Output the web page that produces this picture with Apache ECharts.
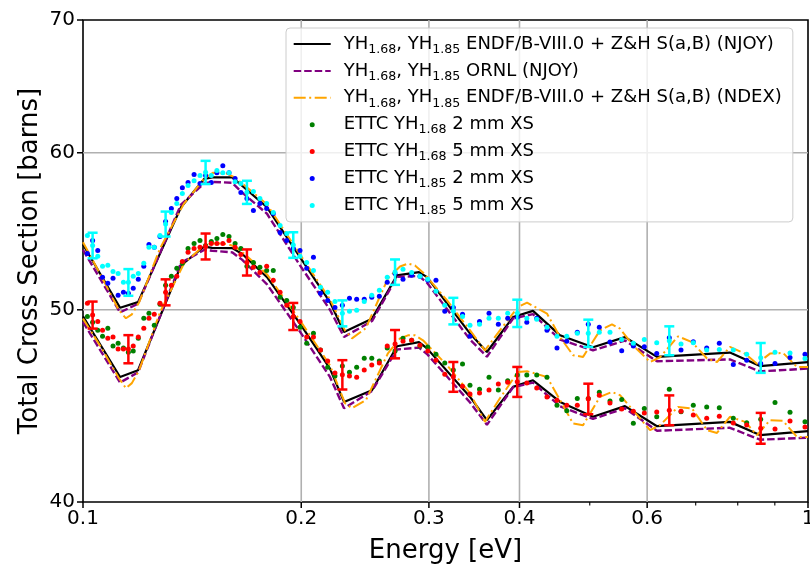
<!DOCTYPE html>
<html><head><meta charset="utf-8">
<script src="https://cdn.jsdelivr.net/npm/echarts@6/dist/echarts.min.js"></script>
<style>html,body{margin:0;padding:0;background:#fff}#c{width:810px;height:564px}</style>
</head><body><div id="c"></div>
<script>
// ---------- data ----------
const endfE = [0.1, 0.1125, 0.1191, 0.1365, 0.1469, 0.1507, 0.1606, 0.1657, 0.1794, 0.1992, 0.2191, 0.2291, 0.2504, 0.2711, 0.2907, 0.2982, 0.3419, 0.3607, 0.3919, 0.4175, 0.4550, 0.5052, 0.5592, 0.6190, 0.7804, 0.8585, 1.0];
const endfUpper = [53.94, 50.12, 50.45, 56.32, 58.20, 58.31, 58.31, 57.75, 56.32, 53.15, 50.45, 48.73, 49.49, 52.04, 52.24, 51.93, 48.64, 47.61, 49.58, 49.94, 48.54, 47.87, 48.44, 47.34, 47.58, 46.84, 47.05];
const endfLower = [49.62, 46.25, 46.61, 52.64, 53.81, 53.73, 53.71, 53.36, 51.93, 49.20, 46.70, 44.93, 45.54, 47.93, 48.16, 47.81, 45.19, 43.99, 45.72, 46.07, 44.93, 44.16, 44.71, 43.68, 43.90, 43.23, 43.43];

const ornlUpper = [53.6, 49.85, 50.35, 56.5, 57.9, 58.0, 57.95, 57.3, 55.9, 52.65, 50.0, 48.45, 49.35, 51.95, 52.0, 51.6, 48.3, 47.35, 49.5, 49.75, 48.3, 47.7, 48.25, 47.1, 47.2, 46.55, 46.7];
const ornlLower = [49.3, 45.95, 46.5, 52.8, 53.6, 53.55, 53.45, 53.0, 51.5, 48.75, 46.25, 44.6, 45.5, 47.75, 47.85, 47.5, 44.9, 43.75, 45.7, 45.95, 44.7, 44.05, 44.6, 43.45, 43.6, 43.0, 43.1];

const ndexE = [0.1, 0.1055, 0.1121, 0.1146, 0.1168, 0.1195, 0.1277, 0.1378, 0.1469, 0.1512, 0.1580, 0.1621, 0.1673, 0.1794, 0.1992, 0.2191, 0.2298, 0.2350, 0.2456, 0.2634, 0.2737, 0.2807, 0.2870, 0.2944, 0.3178, 0.3419, 0.3584, 0.3759, 0.3981, 0.4097, 0.4365, 0.4550, 0.4742, 0.4895, 0.5165, 0.5366, 0.5504, 0.5736, 0.6055, 0.6250, 0.6618, 0.6918, 0.7256, 0.7490, 0.7804, 0.8187, 0.8504, 0.8862, 0.9237, 0.9657, 1.0];
const ndexUpper = [54.08, 52.16, 49.97, 49.51, 49.74, 50.43, 53.69, 56.56, 58.22, 58.63, 58.56, 58.29, 57.75, 56.50, 53.32, 50.61, 48.82, 48.37, 48.95, 51.86, 52.58, 52.76, 52.64, 52.22, 50.55, 48.82, 47.70, 48.82, 50.16, 50.42, 49.78, 48.44, 47.43, 47.34, 48.82, 49.16, 48.92, 47.98, 47.06, 47.32, 48.48, 48.16, 47.25, 47.06, 47.89, 47.52, 46.97, 47.52, 47.56, 46.79, 46.79];
const ndexLower = [49.49, 47.98, 46.18, 45.65, 45.92, 46.61, 49.85, 52.76, 53.88, 54.02, 53.97, 53.81, 53.32, 52.10, 49.39, 46.88, 44.86, 44.60, 45.02, 47.54, 48.37, 48.54, 48.54, 48.26, 46.88, 45.38, 43.90, 45.12, 46.52, 46.56, 46.25, 45.02, 43.82, 43.73, 45.19, 45.45, 45.28, 44.50, 43.48, 43.73, 44.67, 44.59, 43.48, 43.34, 44.16, 43.90, 43.23, 43.99, 43.95, 43.14, 43.14];

const ettcE = [0.1014, 0.1031, 0.1048, 0.1064, 0.1082, 0.1100, 0.1118, 0.1137, 0.1155, 0.1173,
  0.1192, 0.1213, 0.1233, 0.1254, 0.1277, 0.1300, 0.1324, 0.1347, 0.1371, 0.1396,
  0.1423, 0.1450, 0.1476, 0.1503, 0.1530, 0.1559, 0.1590, 0.1621, 0.1651, 0.1683,
  0.1718, 0.1754, 0.1792, 0.1830, 0.1870, 0.1910, 0.1950, 0.1992, 0.2035, 0.2079,
  0.2126, 0.2175, 0.2226, 0.2279, 0.2331, 0.2385, 0.2443, 0.2502, 0.2563, 0.2628,
  0.2694, 0.2763, 0.2840, 0.2916, 0.2989, 0.3068, 0.3155, 0.3242, 0.3338, 0.3418,
  0.3523, 0.3631, 0.3740, 0.3853, 0.3972, 0.4094, 0.4225, 0.4365, 0.4506, 0.4648,
  0.4806, 0.4977, 0.5154, 0.5332, 0.5534, 0.5742, 0.5946, 0.6185, 0.6437, 0.6681,
  0.6947, 0.7249, 0.7545, 0.7888, 0.8231, 0.8605, 0.9005, 0.9445, 0.9905];
const yh185_2mm = [53.38, 54.19, 53.57, 51.92, 51.56, 51.86, 50.85, 51.03, 50.97, 51.26,
  51.80, 52.59, 53.94, 53.76, 54.44, 55.40, 56.24, 56.89, 57.62, 57.96,
  58.50, 57.89, 58.43, 57.96, 58.63, 59.11, 58.63, 58.23, 57.29, 56.89,
  56.11, 56.57, 56.24, 55.92, 54.70, 54.19, 53.69, 53.57, 52.47, 53.14,
  50.97, 50.55, 50.14, 50.26, 50.67, 50.61, 50.61, 50.73, 50.79, 51.62,
  52.16, 51.80, 52.04, 51.98, 51.74, 51.74, 49.91, 50.14, 49.74, 48.49,
  49.33, 49.80, 49.17, 49.51, 49.57, 49.28, 49.51, 48.83, 47.83, 48.21,
  48.72, 49.17, 49.00, 48.16, 47.68, 47.94, 47.90, 47.53, 48.40, 47.72,
  48.18, 47.83, 48.09, 46.93, 47.16, 46.98, 46.98, 47.31, 47.49];
const yh185_5mm = [54.51, 53.88, 53.20, 52.59, 52.65, 52.28, 52.16, 51.62, 51.62, 51.98,
  52.16, 52.77, 53.76, 53.76, 54.51, 55.24, 55.98, 56.57, 57.23, 57.76,
  58.09, 58.43, 58.65, 58.43, 58.77, 58.63, 58.63, 58.02, 57.89, 57.31,
  57.36, 56.89, 56.57, 55.98, 55.14, 54.63, 53.91, 53.20, 52.83, 52.34,
  51.32, 51.03, 50.49, 49.80, 49.91, 49.97, 50.49, 50.85, 51.15, 51.92,
  52.24, 52.41, 52.22, 51.98, 51.80, 51.09, 50.26, 49.93, 49.62, 49.11,
  49.17, 49.51, 49.51, 49.80, 49.80, 49.51, 49.45, 49.00, 48.49, 48.49,
  48.66, 48.66, 48.72, 48.72, 48.31, 48.09, 48.31, 48.12, 48.24, 48.05,
  48.12, 47.72, 47.75, 47.72, 47.49, 47.29, 47.59, 47.56, 47.25];
const yh168_2mm = [49.62, 49.28, 48.83, 48.49, 48.94, 47.94, 48.10, 47.83, 47.60, 47.66,
  48.38, 49.51, 49.80, 49.11, 50.32, 51.44, 51.98, 52.47, 52.77, 53.69,
  54.00, 54.19, 53.88, 54.13, 54.32, 54.57, 54.44, 54.00, 53.69, 52.59,
  52.83, 52.53, 52.34, 52.34, 50.73, 50.55, 50.14, 49.00, 48.10, 48.66,
  47.72, 46.78, 46.30, 46.84, 46.51, 46.78, 47.27, 47.27, 47.11, 47.83,
  47.66, 48.38, 48.27, 47.94, 47.88, 47.49, 47.00, 46.62, 46.95, 45.81,
  45.60, 46.23, 45.55, 46.04, 46.35, 46.35, 46.35, 46.23, 44.76, 44.47,
  45.11, 45.11, 45.43, 44.98, 45.06, 43.83, 44.59, 44.16, 45.59, 44.42,
  44.76, 44.67, 44.62, 44.08, 43.86, 44.03, 44.90, 44.39, 43.91];
const yh168_5mm = [50.38, 49.70, 49.33, 48.83, 48.38, 48.44, 47.77, 47.77, 47.77, 47.94,
  48.44, 48.94, 49.51, 49.74, 50.38, 51.03, 51.44, 51.98, 52.89, 53.45,
  53.69, 53.76, 53.82, 54.00, 54.00, 54.00, 54.19, 53.76, 53.32, 52.83,
  52.53, 52.22, 52.59, 51.74, 51.03, 50.26, 49.62, 49.33, 48.44, 48.44,
  47.72, 47.11, 46.46, 46.37, 46.30, 46.24, 46.62, 46.89, 47.00, 47.94,
  48.05, 48.21, 48.27, 47.99, 47.66, 47.16, 46.40, 46.26, 45.76, 45.34,
  45.39, 45.55, 45.87, 45.97, 45.99, 45.92, 45.66, 45.18, 45.02, 44.76,
  44.76, 45.09, 45.28, 44.87, 44.56, 44.45, 44.35, 44.40, 44.50, 44.45,
  44.25, 44.09, 44.19, 43.84, 43.74, 43.58, 43.54, 43.94, 43.64];

// error bars (5 mm sets) at these ETTC indices
const errIdx = [1, 8, 15, 22, 29, 36, 43, 50, 57, 64, 71, 78, 85];
const err185_5mm = [0.80, 0.80, 0.80, 0.79, 0.77, 0.80, 0.75, 0.77, 0.77, 0.79, 0.77, 0.81, 0.82];
const err168_5mm = [0.78, 0.78, 0.77, 0.81, 0.80, 0.78, 0.79, 0.79, 0.80, 0.80, 0.80, 0.77, 0.78];

// axis ticks
const xTickVals = [0.1, 0.2, 0.3, 0.4, 0.6, 1];
const xTickLabels = ['0.1', '0.2', '0.3', '0.4', '0.6', '1'];
const xMinorTicks = [0.5, 0.7, 0.8, 0.9];
const xGridVals = [0.2, 0.3, 0.4, 0.6];
const yTickVals = [40, 50, 60, 70];
const yTickLabels = ['40', '50', '60', '70'];
const yGridVals = [50, 60];

// series names
const N1 = 'YH1.68, YH1.85 ENDF/B-VIII.0 + Z&H S(a,B) (NJOY)';
const N2 = 'YH1.68, YH1.85 ORNL (NJOY)';
const N3 = 'YH1.68, YH1.85 ENDF/B-VIII.0 + Z&H S(a,B) (NDEX)';
const N4 = 'ETTC YH1.68 2 mm XS';
const N5 = 'ETTC YH1.68 5 mm XS';
const N6 = 'ETTC YH1.85 2 mm XS';
const N7 = 'ETTC YH1.85 5 mm XS';

// ---------- chart ----------
const FONT = 'DejaVu Sans';
const chart = echarts.init(document.getElementById('c'), null, {renderer: 'canvas'});
const pairs = (xs, ys) => xs.map((x, i) => [x, ys[i]]);

const legendRich = {};
legendRich[N1] = '{sp|}{n|YH}{s|1.68}{n|, YH}{s|1.85}{n| ENDF/B-VIII.0 + Z&H S(a,B) (NJOY)}';
legendRich[N2] = '{sp|}{n|YH}{s|1.68}{n|, YH}{s|1.85}{n| ORNL (NJOY)}';
legendRich[N3] = '{sp|}{n|YH}{s|1.68}{n|, YH}{s|1.85}{n| ENDF/B-VIII.0 + Z&H S(a,B) (NDEX)}';
legendRich[N4] = '{sp|}{n|ETTC YH}{s|1.68}{n| 2 mm XS}';
legendRich[N5] = '{sp|}{n|ETTC YH}{s|1.68}{n| 5 mm XS}';
legendRich[N6] = '{sp|}{n|ETTC YH}{s|1.85}{n| 2 mm XS}';
legendRich[N7] = '{sp|}{n|ETTC YH}{s|1.85}{n| 5 mm XS}';

function lineSeries(name, xs, ys, color, width, type) {
  return {name, type: 'line', data: pairs(xs, ys), symbol: 'none', showSymbol: false,
    z: 2, silent: true, lineStyle: {color, width, type, cap: 'butt'}, itemStyle: {color, opacity: 0}};
}
function scatterSeries(name, ys, color) {
  return {name, type: 'scatter', data: pairs(ettcE, ys), symbol: 'circle', symbolSize: 5,
    z: 3, silent: true, itemStyle: {color, opacity: 1}};
}
function errSeries(vals, errs, color) {
  return {type: 'custom', z: 4, silent: true, clip: false,
    data: errIdx.map((k, i) => [ettcE[k], vals[k], errs[i]]),
    renderItem(params, api) {
      const x = api.value(0), y = api.value(1), e = api.value(2);
      const t = api.coord([x, y + e]), b = api.coord([x, y - e]);
      const w = 5, st = {stroke: color, lineWidth: 2.5};
      return {type: 'group', children: [
        {type: 'line', shape: {x1: t[0], y1: t[1], x2: b[0], y2: b[1]}, style: st},
        {type: 'line', shape: {x1: t[0] - w, y1: t[1], x2: t[0] + w, y2: t[1]}, style: st},
        {type: 'line', shape: {x1: b[0] - w, y1: b[1], x2: b[0] + w, y2: b[1]}, style: st}
      ]};
    }};
}
const xDecor = {
  type: 'custom', z: 0, silent: true, clip: false,
  data: xTickVals.map((v, i) => [v, 40, i]),
  renderItem(params, api) {
    const v = api.value(0), i = api.value(2);
    const b = api.coord([v, 40]), t = api.coord([v, 70]);
    const ch = [];
    if (xGridVals.indexOf(v) >= 0) ch.push({type: 'line', shape: {x1: b[0], y1: b[1], x2: t[0], y2: t[1]}, style: {stroke: '#b0b0b0', lineWidth: 1.6}});
    ch.push({type: 'line', shape: {x1: b[0], y1: b[1], x2: b[0], y2: b[1] + 6}, style: {stroke: '#000', lineWidth: 1.5}});
    ch.push({type: 'text', x: b[0], y: b[1] + 7, style: {text: xTickLabels[i], fontSize: 20, fontFamily: FONT, fill: '#000', align: 'center', verticalAlign: 'top'}});
    return {type: 'group', children: ch};
  }
};
const xMinor = {
  type: 'custom', z: 0, silent: true, clip: false,
  data: xMinorTicks.map(v => [v, 40]),
  renderItem(params, api) {
    const b = api.coord([api.value(0), 40]);
    return {type: 'line', shape: {x1: b[0], y1: b[1], x2: b[0], y2: b[1] + 3.5}, style: {stroke: '#000', lineWidth: 1.1}};
  }
};
const yDecor = {
  type: 'custom', z: 0, silent: true, clip: false,
  data: yTickVals.map((v, i) => [0.1, v, i]),
  renderItem(params, api) {
    const v = api.value(1), i = api.value(2);
    const l = api.coord([0.1, v]), r = api.coord([1, v]);
    const ch = [];
    if (yGridVals.indexOf(v) >= 0) ch.push({type: 'line', shape: {x1: l[0], y1: l[1], x2: r[0], y2: r[1]}, style: {stroke: '#b0b0b0', lineWidth: 1.6}});
    ch.push({type: 'line', shape: {x1: l[0] - 6, y1: l[1], x2: l[0], y2: l[1]}, style: {stroke: '#000', lineWidth: 1.5}});
    ch.push({type: 'text', x: l[0] - 8, y: l[1], style: {text: yTickLabels[i], fontSize: 20, fontFamily: FONT, fill: '#000', align: 'right', verticalAlign: 'middle'}});
    return {type: 'group', children: ch};
  }
};

const option = {
  animation: false,
  backgroundColor: '#fff',
  textStyle: {fontFamily: FONT},
  grid: {left: 83, right: 2, top: 20, bottom: 62, show: true, borderColor: '#000', borderWidth: 1.6,
    backgroundColor: 'transparent', containLabel: false, outerBoundsMode: 'none'},
  xAxis: {
    type: 'log', logBase: 10, min: 0.1, max: 1,
    name: 'Energy [eV]', nameLocation: 'middle', nameGap: 36,
    nameTextStyle: {fontSize: 26, fontFamily: FONT, color: '#000'},
    axisLine: {show: false}, axisTick: {show: false}, axisLabel: {show: false},
    splitLine: {show: false}, minorTick: {show: false}
  },
  yAxis: {
    type: 'log', logBase: 10, min: 40, max: 70,
    name: 'Total Cross Section [barns]', nameLocation: 'middle', nameGap: 40,
    nameTextStyle: {fontSize: 26, fontFamily: FONT, color: '#000'},
    axisLine: {show: false}, axisTick: {show: false}, axisLabel: {show: false},
    splitLine: {show: false}
  },
  legend: {
    orient: 'vertical', left: 286, top: 28,
    padding: [7, 11, 4.5, 6.7],
    itemWidth: 37, itemHeight: 5, itemGap: 5.9,
    symbolKeepAspect: true,
    backgroundColor: 'rgba(255,255,255,0.8)', borderColor: '#cccccc', borderWidth: 1, borderRadius: 4,
    selectedMode: false,
    data: [
      {name: N1, itemStyle: {opacity: 0}},
      {name: N2, itemStyle: {opacity: 0}},
      {name: N3, itemStyle: {opacity: 0}},
      N4, N5, N6, N7
    ],
    formatter: name => legendRich[name],
    textStyle: {
      color: '#000', fontFamily: FONT, fontSize: 18,
      rich: {
        sp: {width: 8},
        n: {fontSize: 18, fontFamily: FONT, color: '#000', lineHeight: 22, verticalAlign: 'middle'},
        s: {fontSize: 12.6, fontFamily: FONT, color: '#000', lineHeight: 24, verticalAlign: 'bottom'}
      }
    }
  },
  series: [
    xDecor, xMinor, yDecor,
    lineSeries(N1, endfE, endfUpper, '#000000', 2.2, 'solid'),
    lineSeries(N1, endfE, endfLower, '#000000', 2.2, 'solid'),
    lineSeries(N2, endfE, ornlUpper, '#800080', 2.4, [7.5, 3]),
    lineSeries(N2, endfE, ornlLower, '#800080', 2.4, [7.5, 3]),
    lineSeries(N3, ndexE, ndexUpper, '#FFA500', 2.0, [12, 3.5, 2, 3.5]),
    lineSeries(N3, ndexE, ndexLower, '#FFA500', 2.0, [12, 3.5, 2, 3.5]),
    scatterSeries(N4, yh168_2mm, '#008000'),
    scatterSeries(N5, yh168_5mm, '#ff0000'),
    scatterSeries(N6, yh185_2mm, '#0000ff'),
    scatterSeries(N7, yh185_5mm, '#00ffff'),
    errSeries(yh185_5mm, err185_5mm, '#00ffff'),
    errSeries(yh168_5mm, err168_5mm, '#ff0000')
  ]
};
chart.setOption(option);
</script>
</body></html>
